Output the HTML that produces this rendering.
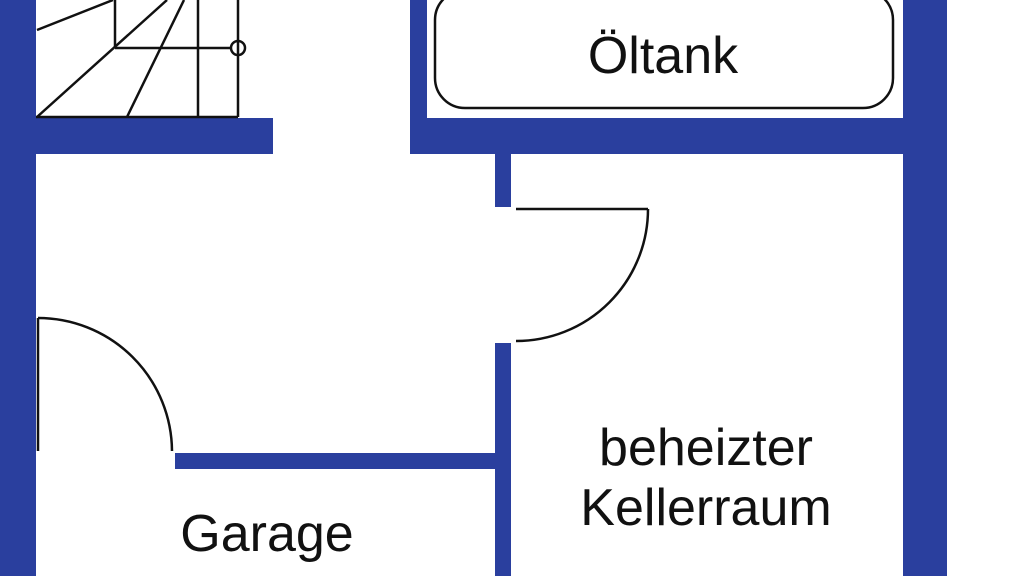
<!DOCTYPE html>
<html><head><meta charset="utf-8"><style>
html,body{margin:0;padding:0;background:#fff;}
svg{display:block}
text{font-family:"Liberation Sans",Arial,sans-serif;font-size:52px;fill:#111;text-anchor:middle}
</style></head><body>
<svg width="1024" height="576" viewBox="0 0 1024 576" xmlns="http://www.w3.org/2000/svg">
<rect width="1024" height="576" fill="#fff"/>
<g fill="#2a3f9e">
<rect x="0" y="0" width="36" height="576"/>
<rect x="36" y="118" width="237" height="36"/>
<rect x="410" y="0" width="17" height="154"/>
<rect x="410" y="118" width="495" height="36"/>
<rect x="903" y="0" width="44" height="576"/>
<rect x="495" y="154" width="16" height="53"/>
<rect x="495" y="343" width="16" height="233"/>
<rect x="175" y="453" width="320" height="16"/>
</g>
<g fill="none" stroke="#111" stroke-width="2.5">
<rect x="435" y="-10" width="458" height="118" rx="30"/>
<line x1="36" y1="117" x2="238" y2="117"/>
<line x1="238" y1="0" x2="238" y2="117"/>
<line x1="198" y1="0" x2="198" y2="117"/>
<line x1="115" y1="0" x2="115" y2="48"/>
<line x1="115" y1="48" x2="231" y2="48"/>
<circle cx="238" cy="48" r="7"/>
<line x1="37" y1="30" x2="113" y2="0"/>
<line x1="37" y1="117" x2="167" y2="0"/>
<line x1="127" y1="117" x2="184" y2="0"/>
<line x1="516" y1="209" x2="648" y2="209"/>
<path d="M648 209 A132 132 0 0 1 516 341"/>
<line x1="38" y1="318" x2="38" y2="451"/>
<path d="M38 318 A134 134 0 0 1 172 451"/>
</g>
<text x="663" y="73">Öltank</text>
<text x="706" y="465">beheizter</text>
<text x="706" y="525">Kellerraum</text>
<text x="267" y="551">Garage</text>
</svg>
</body></html>
